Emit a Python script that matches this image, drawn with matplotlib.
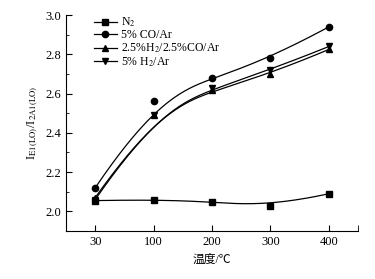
import numpy as np
import matplotlib
matplotlib.use("Agg")
from matplotlib import pyplot as plt
from matplotlib.ticker import MultipleLocator

plt.rcParams['font.family'] = ['Liberation Serif', 'Noto Sans CJK SC']
plt.rcParams['mathtext.fontset'] = 'stix'

temps = ["30", "100", "200", "300", "400"]
n2 = [2.055, 2.06, 2.05, 2.025, 2.09]
co = [2.12, 2.56, 2.68, 2.78, 2.94]
h2co = [2.07, 2.49, 2.62, 2.70, 2.825]
h2 = [2.06, 2.49, 2.63, 2.72, 2.84]

series = [
    (n2, "s", r"N$_2$"),
    (co, "o", "5% CO/Ar"),
    (h2co, "^", r"2.5%H$_2$/2.5%CO/Ar"),
    (h2, "v", r"5% H$_2$/Ar"),
]


def basis(i, k, t, knots):
    # Cox-de Boor recursion
    if k == 0:
        last = knots[i + 1] == knots[-1] and knots[i] < knots[i + 1]
        return np.where((t >= knots[i]) & ((t < knots[i + 1]) | (last & (t == knots[i + 1]))), 1.0, 0.0)
    out = np.zeros_like(t)
    d1 = knots[i + k] - knots[i]
    if d1 > 0:
        out += (t - knots[i]) / d1 * basis(i, k - 1, t, knots)
    d2 = knots[i + k + 1] - knots[i + 1]
    if d2 > 0:
        out += (knots[i + k + 1] - t) / d2 * basis(i + 1, k - 1, t, knots)
    return out


def bspline(px, py, deg=3, num=200):
    n = len(px)
    knots = np.concatenate([np.zeros(deg), np.linspace(0, 1, n - deg + 1), np.ones(deg)])
    t = np.linspace(0, 1, num)
    b = np.array([basis(i, deg, t, knots) for i in range(n)])
    return b.T @ np.asarray(px, float), b.T @ np.asarray(py, float)


fig = plt.figure(figsize=(3.75, 2.79), dpi=100)
ax = fig.add_axes([0.176, 0.172, 0.779, 0.774])

x = np.arange(len(temps))
for vals, mk, lab in series:
    cx, cy = bspline(x, vals)
    ax.plot(cx, cy, color="black", lw=0.9)
    ax.plot(x, vals, linestyle="none", marker=mk, color="black", ms=4.5)
    ax.plot([], [], color="black", lw=0.9, marker=mk, ms=4.5, label=lab)

ax.set_xlim(-0.5, 4.5)
ax.set_ylim(1.9, 3.0)
ax.set_xticks(x)
ax.set_xticklabels(temps)
ax.set_xticks([4.5], minor=True)
ax.yaxis.set_major_locator(MultipleLocator(0.2))
ax.yaxis.set_minor_locator(MultipleLocator(0.1))
ax.spines['top'].set_visible(False)
ax.spines['right'].set_visible(False)
ax.tick_params(direction="in", labelsize=9, length=4)
ax.tick_params(which="minor", direction="in", length=2)
ax.tick_params(axis="x", which="minor", length=4)
ax.set_xlabel("温度/℃", fontsize=8.5, labelpad=4)
ax.set_ylabel(r"I$_{\mathrm{E1(LO)}}$/I$_{\mathrm{2A1(LO)}}$", fontsize=9)
ax.legend(loc="upper left", bbox_to_anchor=(0.07, 1.03), frameon=False, fontsize=8.5,
          handlelength=2.0, labelspacing=0.02, borderaxespad=0.2, handletextpad=0.3)

fig.savefig("out.png", dpi=100)
